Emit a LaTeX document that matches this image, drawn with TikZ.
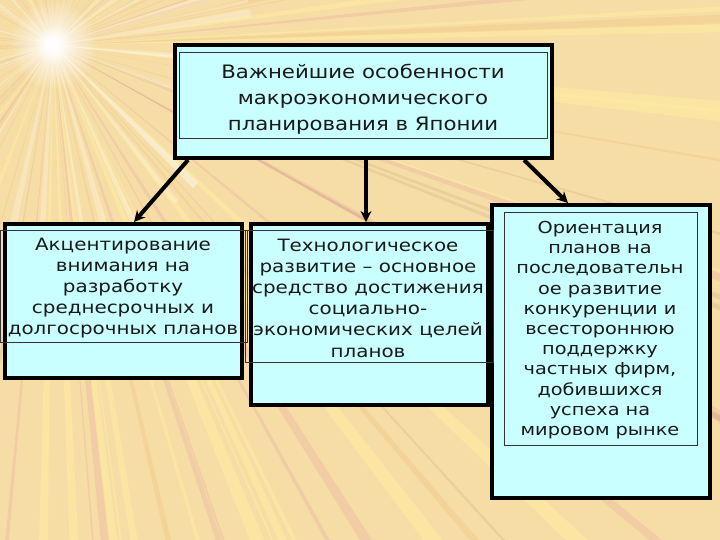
\documentclass[tikz,border=0pt]{standalone}
\usepackage{fontspec}
\setmainfont{DejaVu Sans}
\newfontfamily\wideA[FakeStretch=1.15]{DejaVu Sans}
\newfontfamily\wideB[FakeStretch=1.17]{DejaVu Sans}
\usetikzlibrary{arrows.meta,fadings}
\tikzfading[name=glow, inner color=transparent!0, outer color=transparent!100]
\definecolor{bgcol}{RGB}{246,221,166}
\definecolor{boxfill}{RGB}{202,255,255}
\definecolor{rayY}{RGB}{255,240,160}
\definecolor{rayP}{RGB}{232,168,160}
\definecolor{rayO}{RGB}{240,190,120}
\definecolor{rayD}{RGB}{175,145,110}
\tikzset{
  outerbox/.style={draw=black, line width=4pt, fill=boxfill, inner sep=0pt},
  innerbox/.style={draw=black!80, line width=0.8pt},
  toptext/.style={font=\wideA\fontsize{18.5}{26}\selectfont, align=center, text=black!90},
  lowtext/.style={font=\wideB\fontsize{17}{21.2}\selectfont, align=center, text=black!90},
  rtext/.style={font=\wideB\fontsize{16.5}{20.2}\selectfont, align=center, text=black!90},
  conn/.style={line width=4pt, -{Stealth[length=11pt,width=11pt]}},
}
\begin{document}
\begin{tikzpicture}[x=1pt,y=-1pt]
\useasboundingbox (0,0) rectangle (720,540);
\begin{scope}
\clip (0,0) rectangle (720,540);
\fill[bgcol] (0,0) rectangle (720,540);
\pgfmathsetseed{11}
\foreach \i in {1,...,45}{
  \pgfmathsetmacro{\ang}{random(0,3600)/10}
  \pgfmathsetmacro{\w}{random(1,5)/10}
  \fill[rayP, opacity=0.3] (53,45) -- +(\ang-\w:950) -- +(\ang+\w:950) -- cycle;
}
\foreach \i in {1,...,60}{
  \pgfmathsetmacro{\ang}{random(0,3600)/10}
  \pgfmathsetmacro{\w}{random(1,7)/10}
  \fill[rayY, opacity=0.45] (53,45) -- +(\ang-\w:950) -- +(\ang+\w:950) -- cycle;
}
\foreach \i in {1,...,30}{
  \pgfmathsetmacro{\ang}{random(0,3600)/10}
  \pgfmathsetmacro{\w}{random(1,5)/10}
  \fill[rayO, opacity=0.3] (53,45) -- +(\ang-\w:950) -- +(\ang+\w:950) -- cycle;
}
\foreach \i in {1,...,25}{
  \pgfmathsetmacro{\ang}{random(0,3600)/10}
  \pgfmathsetmacro{\w}{random(1,2)/10}
  \fill[rayD, opacity=0.18] (53,45) -- +(\ang-\w:950) -- +(\ang+\w:950) -- cycle;
}
\foreach \i in {1,...,35}{
  \pgfmathsetmacro{\ang}{random(0,3600)/10}
  \pgfmathsetmacro{\w}{random(3,12)/10}
  \fill[white, opacity=0.25] (53,45) -- +(\ang-\w:200) -- +(\ang+\w:200) -- cycle;
}
\fill[white, path fading=glow] (53,45) circle (45);
\fill[white, path fading=glow] (53,45) circle (20);
\end{scope}

% outer boxes
\node[outerbox, minimum width=377pt, minimum height=113pt] (top) at (363.5,101.5) {};
\node[outerbox, minimum width=237pt, minimum height=154pt] (left) at (123.5,301) {};
\node[outerbox, minimum width=237pt, minimum height=181pt] (mid) at (369.5,314.5) {};
\node[outerbox, minimum width=218pt, minimum height=293pt] (right) at (601,351.5) {};

% inner rectangles
\draw[innerbox] (179,52) rectangle (547,138);
\draw[innerbox] (0,230) rectangle (247,342);
\draw[innerbox] (245,230) rectangle (493,362);
\draw[innerbox] (504,212) rectangle (697,445);

% texts
\node[toptext] (ttop) at (363,99) {Важнейшие особенности\\макроэкономического\\планирования в Японии};
\node[lowtext] (tleft) at (123,288) {Акцентирование\\внимания на\\разработку\\среднесрочных и\\долгосрочных планов};
\node[lowtext] (tmid) at (368,298) {Технологическое\\развитие – основное\\средство достижения\\социально-\\экономических целей\\планов};
\node[rtext] (tright) at (600,330) {Ориентация\\планов на\\последовательн\\ое развитие\\конкуренции и\\всестороннюю\\поддержку\\частных фирм,\\добившихся\\успеха на\\мировом рынке};

% connectors
\draw[conn] ([xshift=15pt]top.south west) -- ([xshift=10.5pt]left.north);
\draw[conn] ([xshift=2.5pt]top.south) -- ([xshift=-3.5pt]mid.north);
\draw[conn] ([xshift=-30pt]top.south east) -- ([xshift=-33pt]right.north);
\end{tikzpicture}
\end{document}
